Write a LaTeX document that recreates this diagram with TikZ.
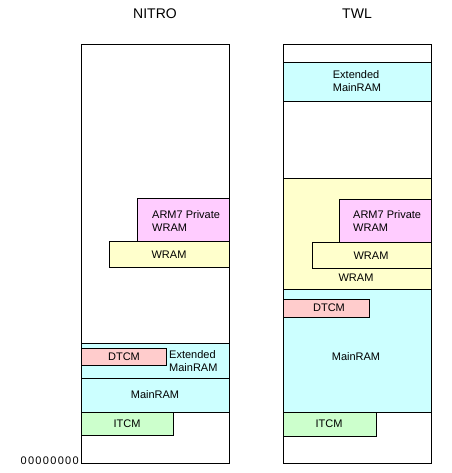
\documentclass[tikz,border=0pt]{standalone}
\usepackage{fontspec}
\setmainfont{Liberation Sans}
\usepackage{tikz}
\definecolor{ramcyan}{HTML}{CCFFFF}
\definecolor{ramyellow}{HTML}{FFFFCC}
\definecolor{rampink}{HTML}{FFCCFF}
\definecolor{dtcmred}{HTML}{FFCCCC}
\definecolor{itcmgreen}{HTML}{CCFFCC}
\tikzstyle{membox} = [draw=black, line width=0.8pt]
\tikzstyle{memlabel} = [inner sep=0pt, font=\fontsize{11}{12.5}\selectfont]
\tikzstyle{title} = [inner sep=0pt, font=\fontsize{14}{16}\selectfont]

\begin{document}
\begin{tikzpicture}[x=1pt, y=-1pt]
		\useasboundingbox (0,0) rectangle (451,473);
		% NITRO
		\node [title] (nitro) at (155,14) {NITRO};
		\fill [white] (81,44) rectangle (229,463);
		\draw [membox, fill=ramcyan] (81,343) rectangle (229,378);
		\draw [membox, fill=ramcyan] (81,378) rectangle (229,412);
		\draw [membox, fill=dtcmred] (81,348) rectangle (166,365);
		\draw [membox, fill=itcmgreen] (81,412) rectangle (173,435);
		\draw [membox, fill=ramyellow] (109,241) rectangle (229,267);
		\draw [membox, fill=rampink] (137,198) rectangle (229,241);
		\draw [membox] (81,44) rectangle (229,463);
		\node [memlabel, anchor=west, align=left] (nitroarm) at (152,221) {ARM7 Private\\WRAM};
		\node [memlabel] (nitrowram) at (169,255) {WRAM};
		\node [memlabel] (nitrodtcm) at (124,357) {DTCM};
		\node [memlabel, anchor=west, align=left] (nitroext) at (169,361) {Extended\\MainRAM};
		\node [memlabel] (nitromain) at (155,395) {MainRAM};
		\node [memlabel] (nitroitcm) at (127,424) {ITCM};
		\node [memlabel, anchor=east, font=\fontsize{11}{12}\selectfont\addfontfeature{LetterSpace=12}] (base) at (79,461) {00000000};

		% TWL
		\node [title] (twl) at (357,14) {TWL};
		\fill [white] (283,44) rectangle (431,463);
		\draw [membox, fill=ramcyan] (283,62) rectangle (431,101);
		\draw [membox, fill=ramyellow] (283,178) rectangle (431,289);
		\draw [membox, fill=rampink] (339,199) rectangle (431,242);
		\draw [membox, fill=ramyellow] (312,242) rectangle (431,268);
		\draw [membox, fill=ramcyan] (283,289) rectangle (431,412);
		\draw [membox, fill=dtcmred] (283,299) rectangle (369,317);
		\draw [membox, fill=itcmgreen] (283,412) rectangle (376,436);
		\draw [membox] (283,44) rectangle (431,463);
		\node [memlabel, align=left] (twlext) at (357,81) {Extended\\MainRAM};
		\node [memlabel, anchor=west, align=left] (twlarm) at (353,221) {ARM7 Private\\WRAM};
		\node [memlabel] (twlwram) at (371,256) {WRAM};
		\node [memlabel] (twlwramall) at (356,278) {WRAM};
		\node [memlabel] (twldtcm) at (329,308) {DTCM};
		\node [memlabel] (twlmain) at (356,357) {MainRAM};
		\node [memlabel] (twlitcm) at (329,424) {ITCM};
\end{tikzpicture}
\end{document}
